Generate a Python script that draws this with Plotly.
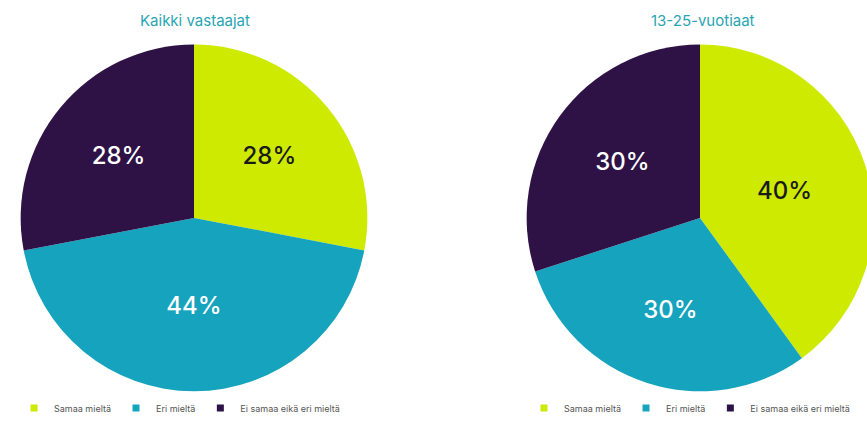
import plotly.graph_objects as go

labels = ["Samaa mieltä", "Eri mieltä", "Ei samaa eikä eri mieltä"]
all_values = [28, 44, 28]
young_values = [40, 30, 30]
titles = ["Kaikki vastaajat", "13-25-vuotiaat"]
colors = ["#cdea00", "#16a3bd", "#2e1246"]
text_colors = ["#1a1a1a", "#ffffff", "#ffffff"]

W, H = 890, 423

def dom_x(a, b):
    return [a / W, b / W]

def dom_y(top, bottom):
    return [1 - bottom / H, 1 - top / H]

fig = go.Figure()
for vals, (x0, x1) in [(all_values, (18, 370)), (young_values, (524, 876))]:
    fig.add_trace(go.Pie(
        labels=labels, values=vals, sort=False, direction="clockwise", rotation=0,
        marker=dict(colors=colors, line=dict(width=0)),
        texttemplate="%{value}%", textinfo="text", textposition="inside",
        insidetextorientation="horizontal",
        textfont=dict(size=24, color=text_colors, family="Inter", weight=500),
        domain=dict(x=dom_x(x0, x1), y=dom_y(45, 395)),
        showlegend=False, hoverinfo="label+percent",
    ))

# legend entries (one set per pie)
for leg in ["legend", "legend2"]:
    for lab, col in zip(labels, colors):
        fig.add_trace(go.Scatter(
            x=[None], y=[None], mode="markers", name=lab,
            marker=dict(symbol="square", size=7, color=col),
            legend=leg, showlegend=True, hoverinfo="skip",
        ))

fig.update_xaxes(visible=False)
fig.update_yaxes(visible=False)

leg_common = dict(orientation="h", font=dict(size=9, color="#555555", family="Inter"),
                  bgcolor="rgba(0,0,0,0)", xanchor="left", yanchor="middle",
                  itemwidth=30, traceorder="normal",
                  tracegroupgap=0, borderwidth=0)
fig.update_layout(
    width=W, height=H, autosize=False,
    margin=dict(l=0, r=0, t=0, b=0),
    paper_bgcolor="white", plot_bgcolor="white",
    showlegend=True,
    legend=dict(x=14 / W, y=1 - 412 / H, **leg_common),
    legend2=dict(x=524 / W, y=1 - 412 / H, **leg_common),
    annotations=[
        dict(text=titles[0], x=195 / W, y=1 - 21 / H, xref="paper", yref="paper",
             xanchor="center", yanchor="middle", showarrow=False,
             font=dict(size=15, color="#2aa5b3", family="Inter")),
        dict(text=titles[1], x=703 / W, y=1 - 21 / H, xref="paper", yref="paper",
             xanchor="center", yanchor="middle", showarrow=False,
             font=dict(size=15, color="#2aa5b3", family="Inter")),
    ],
)

fig.write_html("out.html", post_script="document.body.style.overflow='hidden';document.documentElement.style.overflow='hidden';document.body.style.margin='0';")
